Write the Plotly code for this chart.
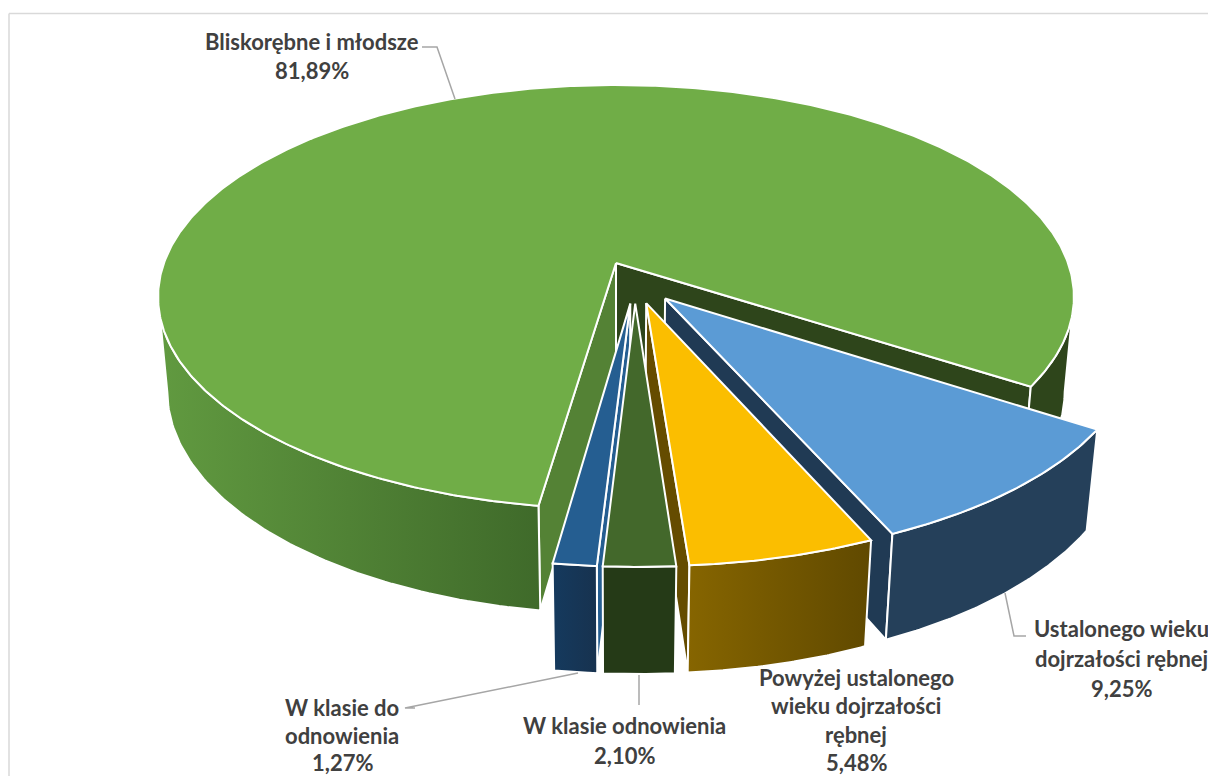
import numpy as np
import plotly.graph_objects as go

# ---- data ----
categories = ["Bliskorębne i młodsze", "Ustalonego wieku dojrzałości rębnej",
              "Powyżej ustalonego wieku dojrzałości rębnej", "W klasie odnowienia",
              "W klasie do odnowienia"]
values = [81.89, 9.25, 5.48, 2.10, 1.27]
top_colors = ["#70AD47", "#5B9BD5", "#FBBE00", "#43682B", "#255E91"]
end_face_colors = ["#2E451B", "#203A54", "#654C00", "#263A17", "#153957"]
start_face_colors = ["#548235", "#203A54", "#654C00", "#263A17", "#255E91"]
wall_left_colors = ["#619A40", "#25405A", "#866500", "#253A17", "#153A5E"]
wall_right_colors = ["#3F6A2A", "#25405A", "#604900", "#253A17", "#17324F"]
wall_back_color = "#2E451B"

label_lines = [
    (["Bliskorębne i młodsze", "81,89%"], 312, [41, 70]),
    (["Ustalonego wieku", "dojrzałości rębnej", "9,25%"], 1121, [628, 658, 688]),
    (["Powyżej ustalonego", "wieku dojrzałości", "rębnej", "5,48%"], 856, [677, 705, 734, 762]),
    (["W klasie odnowienia", "2,10%"], 624, [725, 755]),
    (["W klasie do", "odnowienia", "1,27%"], 342, [707, 735, 762]),
]
leaders = [
    ([422, 437, 455], [47, 47, 99]),
    ([1005, 1014, 1026], [593, 636, 636]),
    ([639, 639], [675, 705]),
    ([415, 405, 578], [708, 708, 673]),
]

# ---- 3-D pie projection ----
START = 188.3      # first slice angle, clockwise from the back
EXPLODE = 0.10
CX, CY, RX, RY = 616, 263, 452, 206.5
K, H, KZ = 0.16, 95, 0.02
CAMERA_Y = 1 / K


def project(X, Y, z=0.0):
    X, Y = np.asarray(X, float), np.asarray(Y, float)
    d = 1 - K * Y + KZ * z
    return CX + RX * X / d, CY + (RY * Y + H * z) / d


def unit(theta):
    t = np.radians(theta)
    return np.sin(t), -np.cos(t)


def poly(xs, ys, name, color=None, gradient=None):
    kw = dict(x=xs, y=ys, mode="lines", fill="toself", name=name, hoverinfo="name",
              line=dict(color="white", width=2), showlegend=False)
    if gradient:
        kw["fillgradient"] = dict(type="horizontal", colorscale=[[0, gradient[0]], [1, gradient[1]]])
    else:
        kw["fillcolor"] = color
    return go.Scatter(**kw)


fig = go.Figure()
total = sum(values)
span = np.array(values) / total * 360
starts = START + np.concatenate([[0], np.cumsum(span)[:-1]])
ends = starts + span
mids = (starts + ends) / 2
mid0x, mid0y = unit(mids[0])
OX, OY = -EXPLODE * mid0x, -EXPLODE * mid0y  # main slice centred on (0,0)


def front_distance(a):
    return abs(((a - 180 + 180) % 360) - 180)


order = sorted(range(len(values)), key=lambda i: -front_distance(mids[i]))
tangent_right = float(np.degrees(np.arccos(-K)))
tangent_left = 360 - tangent_right

for i in order:
    name = f"{categories[i]}: {values[i]:.2f}%".replace(".", ",")
    ux, uy = unit(mids[i])
    tipX, tipY = OX + EXPLODE * ux, OY + EXPLODE * uy

    # radial faces seen by the camera
    for theta, cols, sign in ((starts[i], start_face_colors, -1), (ends[i], end_face_colors, 1)):
        tx, ty = np.cos(np.radians(theta)) * sign, np.sin(np.radians(theta)) * sign
        if tx * (-tipX) + ty * (CAMERA_Y - tipY) <= 0:
            continue
        ex, ey = unit(theta)
        a = project([tipX, tipX + ex], [tipY, tipY + ey], 0)
        b = project([tipX + ex, tipX], [tipY + ey, tipY], 1)
        fig.add_trace(poly(np.r_[a[0], b[0], a[0][0]], np.r_[a[1], b[1], a[1][0]], name, cols[i]))

    # outer walls: only the part that faces the camera (between the two tangent angles)
    ranges = []
    for lo, hi in ((starts[i], ends[i]), (starts[i] - 360, ends[i] - 360)):
        l, h = max(lo, tangent_right), min(hi, tangent_left)
        if h > l:
            ranges.append((l, h))
    for l, h in ranges:
        th = np.linspace(l, h, 80)
        sx, sy = unit(th)
        xt, yt = project(tipX + sx, tipY + sy, 0)
        xb, yb = project(tipX + sx, tipY + sy, 1)
        xs, ys = np.r_[xt, xb[::-1], xt[0]], np.r_[yt, yb[::-1], yt[0]]
        if i == 0 and h < 180:
            fig.add_trace(poly(xs, ys, name, wall_back_color))
        else:
            fig.add_trace(poly(xs, ys, name, gradient=(wall_left_colors[i], wall_right_colors[i])))

    # top surface
    th = np.linspace(starts[i], ends[i], max(20, int(span[i] * 2)))
    sx, sy = unit(th)
    xa, ya = project(tipX + sx, tipY + sy, 0)
    x0, y0 = project(tipX, tipY, 0)
    fig.add_trace(poly(np.r_[x0, xa, x0], np.r_[y0, ya, y0], name, top_colors[i]))

# ---- labels ----
for lines, cx, ys in label_lines:
    for text, y in zip(lines, ys):
        fig.add_annotation(x=cx, y=y, text=f"<b>{text}</b>", showarrow=False, xanchor="center",
                           yanchor="middle", borderpad=0,
                           font=dict(family="Lato", size=22, color="#404040"))

shapes = [
    dict(type="line", x0=9, x1=1208, y0=13.5, y1=13.5, line=dict(color="#D9D9D9", width=1.5)),
    dict(type="line", x0=9, x1=9, y0=13.5, y1=776, line=dict(color="#D9D9D9", width=1.5)),
]
for lx, ly in leaders:
    path = "M" + " L".join(f"{a},{b}" for a, b in zip(lx, ly))
    shapes.append(dict(type="path", path=path, line=dict(color="#A6A6A6", width=1.5)))

fig.update_layout(
    width=1208, height=776, margin=dict(l=0, r=0, t=0, b=0),
    paper_bgcolor="white", plot_bgcolor="white", shapes=shapes,
    xaxis=dict(range=[0, 1208], visible=False, fixedrange=True),
    yaxis=dict(range=[776, 0], visible=False, fixedrange=True),
)
fig.write_html("out.html", config={"displayModeBar": False},
               post_script="document.body.style.margin='0';document.documentElement.style.overflow='hidden';")
